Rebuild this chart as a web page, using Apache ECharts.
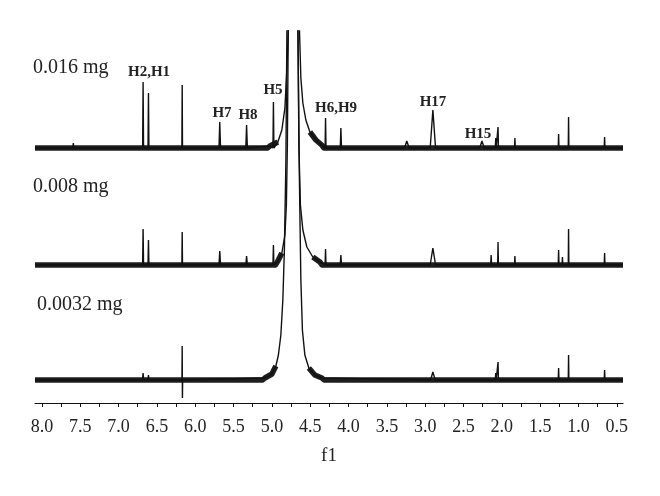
<!DOCTYPE html>
<html><head><meta charset="utf-8">
<script src="https://cdn.jsdelivr.net/npm/echarts@6/dist/echarts.min.js"></script>
<style>html,body{margin:0;padding:0;background:#fff}#c{width:660px;height:496px}</style>
</head><body><div id="c"></div>
<script>
// ---------------- data ----------------
const sampleLabels = ['0.016 mg', '0.008 mg', '0.0032 mg'];
const axisTickValues = [8.0, 7.75, 7.5, 7.25, 7.0, 6.75, 6.5, 6.25, 6.0, 5.75, 5.5, 5.25, 5.0, 4.75, 4.5, 4.25, 4.0, 3.75, 3.5, 3.25, 3.0, 2.75, 2.5, 2.25, 2.0, 1.75, 1.5, 1.25, 1.0, 0.75, 0.5];
const axisLabelValues = [8.0, 7.5, 7.0, 6.5, 6.0, 5.5, 5.0, 4.5, 4.0, 3.5, 3.0, 2.5, 2.0, 1.5, 1.0, 0.5];
const ppmRange = [0.42, 8.09];

// peak annotations
const peakNames = ['H2,H1', 'H7', 'H8', 'H5', 'H6,H9', 'H17', 'H15'];

// narrow / broad lines per spectrum: [ppm, intensity, half-width ppm]
const lines016 = [[7.59,5,0.006],[6.68,66,0.006],[6.61,55,0.006],[6.17,63,0.004],[5.68,26,0.01],[5.33,23,0.01],[4.98,46,0.006],[4.30,30,0.006],[4.10,20,0.008],[3.24,7,0.03],[2.90,38,0.035],[2.26,7,0.03],[2.08,10,0.006],[2.05,21,0.005],[1.83,10,0.005],[1.26,14,0.005],[1.13,31,0.004],[0.66,11,0.005]];
const lines008 = [[6.68,36,0.006],[6.61,25,0.006],[6.17,33,0.004],[5.68,14,0.01],[5.33,9,0.01],[4.98,20,0.006],[4.30,16,0.006],[4.10,10,0.008],[2.90,17,0.035],[2.14,10,0.006],[2.05,23,0.005],[1.83,9,0.005],[1.26,15,0.005],[1.21,8,0.005],[1.13,36,0.004],[0.66,12,0.005]];
const lines0032 = [[6.68,7,0.008],[6.61,5,0.008],[2.90,8,0.03],[2.08,7,0.006],[2.05,18,0.005],[1.26,12,0.005],[1.13,25,0.004],[0.66,10,0.005]];
// dispersive artefact at 6.17 in the 0.0032 mg spectrum: [ppm, intensity]
const spike0032 = [[6.173,0],[6.170,34],[6.167,-18],[6.164,0]];

// large HOD peak outline: [ppm, intensity]
const water016 = [[5.026,2],[4.922,6],[4.870,18],[4.830,40],[4.804,80],[4.785,120],[4.765,250],[4.713,1500],[4.661,250],[4.641,120],[4.622,70],[4.596,45],[4.557,28],[4.504,16],[4.426,8],[4.35,3]];
const water008 = [[4.922,4],[4.870,12],[4.830,30],[4.811,60],[4.798,120],[4.785,250],[4.720,2000],[4.661,250],[4.648,120],[4.628,60],[4.596,35],[4.544,18],[4.466,8],[4.374,3]];
const water0032 = [[5.091,2],[5.0,6],[4.948,14],[4.915,25],[4.883,45],[4.857,80],[4.837,130],[4.817,220],[4.804,350],[4.733,3000],[4.661,350],[4.641,200],[4.622,100],[4.602,50],[4.570,25],[4.518,12],[4.440,5],[4.348,2]];

// ---------------- build ----------------
const OFF = [255, 138, 23]; // vertical stacking offsets of the three spectra
const BAND_MAX = 16;        // noise band follows the HOD tails up to this height

function buildTrace(lines, extras, water, off) {
  const pts = [[ppmRange[1], 0], [ppmRange[0], 0]];
  lines.forEach(([p, h, w]) => { pts.push([p + w, 0], [p, h], [p - w, 0]); });
  extras.forEach(q => pts.push(q));
  water.forEach(q => pts.push(q));
  pts.sort((a, b) => b[0] - a[0]);
  return pts.map(([p, h]) => [p, h + off]);
}
function buildBand(water, off) {
  const apex = water.reduce((a, b) => (b[1] > a[1] ? b : a));
  const first = water[0][0], last = water[water.length - 1][0];
  const left = [[ppmRange[1], 0], [first + 0.03, 0]].concat(water.filter(q => q[0] > apex[0] && q[1] <= BAND_MAX));
  const right = water.filter(q => q[0] < apex[0] && q[1] <= BAND_MAX).concat([[last - 0.03, 0], [ppmRange[0], 0]]);
  return [left, right].map(s => s.map(([p, h]) => [p, h + off]));
}
const waters = [water016, water008, water0032];
const traces = [
  buildTrace(lines016, [], water016, OFF[0]),
  buildTrace(lines008, [], water008, OFF[1]),
  buildTrace(lines0032, spike0032, water0032, OFF[2])
];

const series = [];
traces.forEach((d, i) => {
  buildBand(waters[i], OFF[i]).forEach(seg => {
    series.push({ type: 'line', data: seg, symbol: 'none', silent: true,
      lineStyle: { color: '#1e1e1e', width: 5.5, join: 'round', cap: 'butt' }, z: 2 });
  });
  series.push({ type: 'line', data: d, symbol: 'none', silent: true,
    lineStyle: { color: '#111', width: 1.4 }, z: 3 });
});

const serif = '"Liberation Serif", "DejaVu Serif", serif';
const graphic = [];
const samplePos = [[33, 68], [33, 187], [37, 305]];
sampleLabels.forEach((t, i) => graphic.push({ type: 'text', x: samplePos[i][0], y: samplePos[i][1],
  style: { text: t, font: '20px ' + serif, fill: '#222', align: 'left', verticalAlign: 'middle' } }));
const namePos = [[149, 72], [222, 113], [248, 115], [273, 90], [336, 108], [433, 102], [478, 134]];
peakNames.forEach((t, i) => graphic.push({ type: 'text', x: namePos[i][0], y: namePos[i][1],
  style: { text: t, font: 'bold 15px ' + serif, fill: '#222', align: 'center', verticalAlign: 'middle' } }));

const chart = echarts.init(document.getElementById('c'));
chart.setOption({
  animation: false,
  backgroundColor: '#fff',
  grid: { left: 35, right: 37, top: 31, bottom: 93, containLabel: false },
  xAxis: {
    type: 'value', inverse: true, min: ppmRange[0], max: ppmRange[1],
    name: 'f1', nameLocation: 'middle', nameGap: 44,
    nameTextStyle: { fontFamily: serif, fontSize: 19, color: '#222' },
    axisLine: { show: true, lineStyle: { color: '#111', width: 1.2 } },
    axisTick: { show: true, inside: false, length: 4, customValues: axisTickValues, lineStyle: { color: '#111' } },
    axisLabel: { customValues: axisLabelValues, margin: 15, fontFamily: serif, fontSize: 18, color: '#222',
      formatter: v => v.toFixed(1) },
    splitLine: { show: false }
  },
  yAxis: { type: 'value', min: 0, max: 372, show: false, splitLine: { show: false } },
  series: series,
  graphic: graphic
});
</script></body></html>
